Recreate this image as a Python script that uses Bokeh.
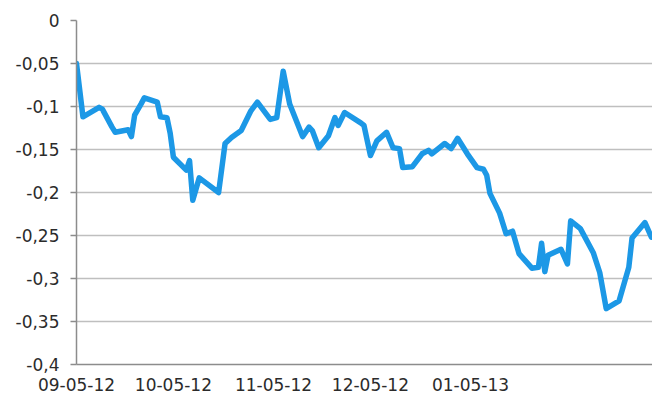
from datetime import datetime
import pandas as pd
from bokeh.plotting import figure
from bokeh.models import FixedTicker, DatetimeTickFormatter, CustomJSTickFormatter, Range1d
from bokeh.embed import file_html
from bokeh.resources import INLINE

dates = [
    "2012-09-05", "2012-09-07", "2012-09-12", "2012-09-13", "2012-09-16", "2012-09-17",
    "2012-09-21", "2012-09-22", "2012-09-23", "2012-09-25", "2012-09-26", "2012-09-30",
    "2012-10-01", "2012-10-03", "2012-10-04", "2012-10-05", "2012-10-09", "2012-10-10",
    "2012-10-11", "2012-10-13", "2012-10-19", "2012-10-21", "2012-10-23", "2012-10-26",
    "2012-10-29", "2012-10-31", "2012-11-04", "2012-11-06", "2012-11-08", "2012-11-10",
    "2012-11-14", "2012-11-16", "2012-11-17", "2012-11-19", "2012-11-22", "2012-11-24",
    "2012-11-25", "2012-11-27", "2012-12-02", "2012-12-03", "2012-12-05", "2012-12-07",
    "2012-12-10", "2012-12-12", "2012-12-14", "2012-12-15", "2012-12-18", "2012-12-21",
    "2012-12-23", "2012-12-24", "2012-12-28", "2012-12-30", "2013-01-01", "2013-01-04",
    "2013-01-07", "2013-01-09", "2013-01-10", "2013-01-11", "2013-01-14", "2013-01-16",
    "2013-01-18", "2013-01-20", "2013-01-24", "2013-01-26", "2013-01-27", "2013-01-28",
    "2013-01-29", "2013-02-02", "2013-02-04", "2013-02-05", "2013-02-08", "2013-02-12",
    "2013-02-14", "2013-02-16", "2013-02-20", "2013-02-23", "2013-02-24", "2013-02-28",
    "2013-03-02",
]
values = [
    -0.050, -0.112, -0.101, -0.103, -0.124, -0.130,
    -0.127, -0.135, -0.110, -0.097, -0.090, -0.095,
    -0.112, -0.113, -0.131, -0.159, -0.174, -0.163,
    -0.209, -0.183, -0.200, -0.143, -0.136, -0.128,
    -0.105, -0.095, -0.115, -0.113, -0.059, -0.097,
    -0.135, -0.124, -0.128, -0.148, -0.134, -0.113,
    -0.122, -0.107, -0.119, -0.122, -0.157, -0.140,
    -0.130, -0.148, -0.149, -0.171, -0.170, -0.155,
    -0.151, -0.155, -0.143, -0.149, -0.137, -0.155,
    -0.171, -0.173, -0.180, -0.201, -0.224, -0.248,
    -0.245, -0.271, -0.288, -0.287, -0.259, -0.292,
    -0.273, -0.266, -0.283, -0.233, -0.242, -0.270,
    -0.293, -0.335, -0.326, -0.287, -0.253, -0.235,
    -0.252,
]
tick_dates = ["2012-09-05", "2012-10-05", "2012-11-05", "2012-12-05", "2013-01-05"]
y_ticks = [0, -0.05, -0.1, -0.15, -0.2, -0.25, -0.3, -0.35, -0.4]

x = [datetime.strptime(d, "%Y-%m-%d") for d in dates]
tick_ms = [pd.Timestamp(d).value / 1e6 for d in tick_dates]

start = datetime(2012, 9, 5)
end = datetime(2013, 3, 2, 8)

p = figure(width=652, height=403, x_axis_type="datetime", output_backend="svg",
           toolbar_location=None, x_range=Range1d(start, end), y_range=Range1d(-0.4, 0))
p.min_border_left = 76
p.min_border_right = 0
p.min_border_top = 20
p.min_border_bottom = 39
p.outline_line_color = None
p.background_fill_color = "white"
p.border_fill_color = "white"

p.line(x, values, line_color="#1C98E6", line_width=5.5, line_join="round", line_cap="round")

font = "DejaVu Sans"
p.xaxis.ticker = FixedTicker(ticks=tick_ms)
fmt = "%m-%d-%y"
p.xaxis.formatter = DatetimeTickFormatter(days=fmt, months=fmt, years=fmt, hours=fmt,
                                          minutes=fmt, seconds=fmt, milliseconds=fmt,
                                          minsec=fmt, hourmin=fmt)
p.xaxis.major_tick_out = 0
p.xaxis.major_tick_in = 0
p.xaxis.minor_tick_out = 0
p.xaxis.minor_tick_in = 0
p.xaxis.major_label_standoff = 13
p.xaxis.axis_line_color = "#8c8c8c"
p.xaxis.axis_line_width = 1.5

p.yaxis.ticker = FixedTicker(ticks=y_ticks)
p.yaxis.formatter = CustomJSTickFormatter(code="""
    const v = Math.round(tick * 100) / 100;
    return v.toString().replace('.', ',');
""")
p.yaxis.major_tick_out = 6
p.yaxis.major_tick_in = 0
p.yaxis.minor_tick_out = 0
p.yaxis.minor_tick_in = 0
p.yaxis.major_label_standoff = 11
p.yaxis.axis_line_color = "#8c8c8c"
p.yaxis.axis_line_width = 1.5
p.yaxis.major_tick_line_color = "#8c8c8c"
p.yaxis.major_tick_line_width = 1.5

for ax in (p.xaxis, p.yaxis):
    ax.major_label_text_font = font
    ax.major_label_text_font_size = "17px"
    ax.major_label_text_color = "#2b2b2b"

p.xgrid.grid_line_color = None
p.ygrid.grid_line_color = "#bfbfbf"
p.ygrid.grid_line_width = 1.5

open("out.html", "w").write(file_html(p, INLINE))
